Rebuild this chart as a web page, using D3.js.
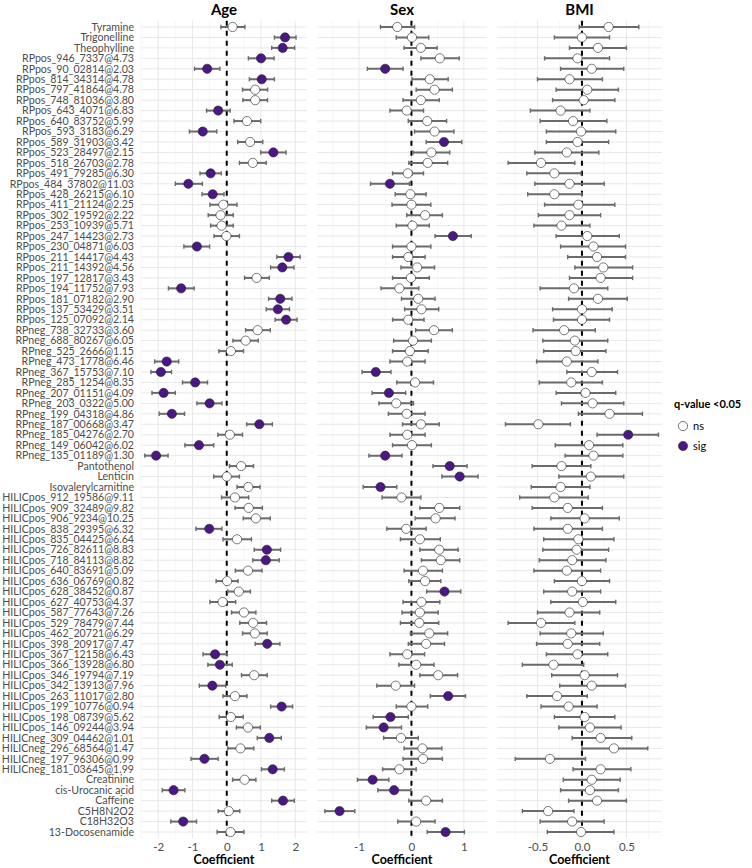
<!DOCTYPE html>
<html>
<head>
<meta charset="utf-8">
<script src="https://cdn.jsdelivr.net/npm/d3@7"></script>
<style>
  body { margin: 0; background: #fff; }
  svg text { font-family: Lato, "Open Sans", sans-serif; }
</style>
</head>
<body>
<div id="chart"></div>
<script>
const metabolites = [
  'Tyramine', 'Trigonelline', 'Theophylline', 'RPpos_946_7337@4.73', 'RPpos_90_02814@2.03',
  'RPpos_814_34314@4.78', 'RPpos_797_41864@4.78', 'RPpos_748_81036@3.80', 'RPpos_643_4071@6.83', 'RPpos_640_83752@5.99',
  'RPpos_593_3183@6.29', 'RPpos_589_31903@3.42', 'RPpos_523_28497@2.15', 'RPpos_518_26703@2.78', 'RPpos_491_79285@6.30',
  'RPpos_484_37802@11.03', 'RPpos_428_26215@6.10', 'RPpos_411_21124@2.25', 'RPpos_302_19592@2.22', 'RPpos_253_10939@5.71',
  'RPpos_247_14423@2.73', 'RPpos_230_04871@6.03', 'RPpos_211_14417@4.43', 'RPpos_211_14392@4.56', 'RPpos_197_12817@3.43',
  'RPpos_194_11752@7.93', 'RPpos_181_07182@2.90', 'RPpos_137_53429@3.51', 'RPpos_125_07092@2.14', 'RPneg_738_32733@3.60',
  'RPneg_688_80267@6.05', 'RPneg_525_2666@1.15', 'RPneg_473_1778@6.46', 'RPneg_367_15753@7.10', 'RPneg_285_1254@8.35',
  'RPneg_207_01151@4.09', 'RPneg_203_0322@5.00', 'RPneg_199_04318@4.86', 'RPneg_187_00668@3.47', 'RPneg_185_04276@2.70',
  'RPneg_149_06042@6.02', 'RPneg_135_01189@1.30', 'Pantothenol', 'Lenticin', 'Isovalerylcarnitine',
  'HILICpos_912_19586@9.11', 'HILICpos_909_32489@9.82', 'HILICpos_906_9234@10.25', 'HILICpos_838_29395@6.32', 'HILICpos_835_04425@6.64',
  'HILICpos_726_82611@8.83', 'HILICpos_718_84113@8.82', 'HILICpos_640_83691@5.09', 'HILICpos_636_06769@0.82', 'HILICpos_628_38452@0.87',
  'HILICpos_627_40753@4.37', 'HILICpos_587_77643@7.26', 'HILICpos_529_78479@7.44', 'HILICpos_462_20721@6.29', 'HILICpos_398_20917@7.47',
  'HILICpos_367_12158@6.43', 'HILICpos_366_13928@6.80', 'HILICpos_346_19794@7.19', 'HILICpos_342_13913@7.96', 'HILICpos_263_11017@2.80',
  'HILICpos_199_10776@0.94', 'HILICpos_198_08739@5.62', 'HILICpos_146_09244@3.94', 'HILICneg_309_04462@1.01', 'HILICneg_296_68564@1.47',
  'HILICneg_197_96306@0.99', 'HILICneg_181_03645@1.99', 'Creatinine', 'cis-Urocanic acid', 'Caffeine',
  'C5H8N2O2', 'C18H32O3', '13-Docosenamide'
];

// Age coefficients
const ageEst = [0.17,1.70,1.63,1.00,-0.57,1.02,0.83,0.83,-0.25,0.59, -0.70,0.68,1.36,0.76,-0.47,-1.12,-0.41,-0.10,-0.18,-0.15,
  -0.01,-0.87,1.80,1.62,0.87,-1.33,1.56,1.49,1.73,0.90, 0.55,0.12,-1.75,-1.92,-0.92,-1.84,-0.50,-1.60,0.95,0.09,
  -0.81,-2.06,0.42,0.00,0.63,0.24,0.64,0.85,-0.51,0.30, 1.17,1.14,0.62,0.01,0.35,-0.12,0.50,0.77,0.82,1.18,
  -0.34,-0.20,0.80,-0.42,0.24,1.60,0.12,0.62,1.24,0.40, -0.65,1.34,0.52,-1.55,1.64,0.06,-1.27,0.11];
const ageLo = [-0.17,1.39,1.31,0.63,-0.94,0.66,0.46,0.47,-0.59,0.21, -1.09,0.32,0.99,0.37,-0.78,-1.50,-0.72,-0.49,-0.54,-0.47,
  -0.37,-1.25,1.46,1.28,0.52,-1.70,1.22,1.15,1.41,0.55, 0.18,-0.23,-2.10,-2.21,-1.29,-2.18,-0.87,-1.97,0.58,-0.26,
  -1.22,-2.39,0.08,-0.38,0.30,-0.15,0.24,0.48,-0.90,-0.11, 0.80,0.76,0.25,-0.31,0.03,-0.49,0.14,0.38,0.46,0.83,
  -0.69,-0.55,0.43,-0.80,-0.11,1.28,-0.22,0.28,0.89,0.03, -1.04,1.01,0.17,-1.88,1.31,-0.25,-1.63,-0.28];
const ageHi = [0.53,2.02,1.98,1.38,-0.20,1.39,1.19,1.19,0.10,0.99, -0.29,1.05,1.73,1.15,-0.16,-0.71,-0.08,0.30,0.19,0.19,
  0.37,-0.50,2.14,1.96,1.24,-0.95,1.90,1.83,2.05,1.27, 0.92,0.49,-1.40,-1.61,-0.56,-1.50,-0.14,-1.23,1.33,0.46,
  -0.38,-1.71,0.78,0.37,0.97,0.64,1.04,1.27,-0.14,0.72, 1.57,1.53,1.03,0.33,0.69,0.26,0.85,1.16,1.18,1.55,
  0.01,0.16,1.18,-0.03,0.59,1.92,0.48,0.98,1.59,0.79, -0.25,1.68,0.85,-1.22,1.97,0.38,-0.88,0.50];
const ageSig = [0,1,1,1,1,1,0,0,1,0, 1,0,1,0,1,1,1,0,0,0, 0,1,1,1,0,1,1,1,1,0, 0,0,1,1,1,1,1,1,1,0,
  1,1,0,0,0,0,0,0,1,0, 1,1,0,0,0,0,0,0,0,1, 1,1,0,1,0,1,0,0,1,0, 1,1,0,1,1,0,1,0];

// Sex coefficients
const sexEst = [-0.27,0.01,0.18,0.54,-0.50,0.35,0.44,0.18,-0.09,0.30, 0.44,0.62,0.38,0.31,-0.07,-0.41,-0.02,0.00,0.26,0.02,
  0.79,0.00,-0.06,0.11,-0.01,-0.23,0.13,0.19,-0.06,0.43, 0.03,-0.03,-0.08,-0.68,0.07,-0.43,-0.29,-0.09,0.18,-0.08,
  0.01,-0.50,0.73,0.92,-0.59,-0.19,0.53,0.46,-0.10,0.16, 0.53,0.56,0.22,0.26,0.63,0.19,0.16,0.15,0.34,0.28,
  -0.08,0.09,0.51,-0.30,0.70,0.00,-0.40,-0.53,-0.20,0.21, 0.22,-0.23,-0.74,-0.33,0.28,-1.37,0.09,0.65];
const sexLo = [-0.59,-0.29,-0.14,0.18,-0.84,0.01,0.09,-0.16,-0.41,-0.06, 0.06,0.28,0.03,-0.05,-0.36,-0.78,-0.31,-0.37,-0.09,-0.29,
  0.45,-0.36,-0.36,-0.20,-0.36,-0.58,-0.19,-0.13,-0.36,0.08, -0.34,-0.36,-0.41,-0.94,-0.28,-0.75,-0.62,-0.44,-0.17,-0.41,
  -0.36,-0.81,0.41,0.58,-0.92,-0.56,0.16,0.07,-0.47,-0.21, 0.16,0.19,-0.14,-0.05,0.29,-0.16,-0.18,-0.21,-0.02,-0.06,
  -0.41,-0.24,0.16,-0.66,0.36,-0.29,-0.73,-0.86,-0.53,-0.14, -0.16,-0.55,-1.03,-0.64,-0.05,-1.65,-0.26,0.30];
const sexHi = [0.06,0.33,0.49,0.91,-0.16,0.70,0.78,0.53,0.23,0.67, 0.81,0.96,0.73,0.69,0.23,-0.04,0.28,0.37,0.59,0.34,
  1.14,0.37,0.26,0.44,0.34,0.14,0.45,0.52,0.24,0.78, 0.38,0.32,0.26,-0.39,0.42,-0.11,0.04,0.26,0.53,0.26,
  0.38,-0.18,1.06,1.27,-0.28,0.18,0.92,0.83,0.28,0.55, 0.89,0.92,0.59,0.56,0.94,0.54,0.51,0.52,0.69,0.63,
  0.25,0.43,0.88,0.06,1.03,0.31,-0.06,-0.19,0.13,0.58, 0.59,0.09,-0.43,-0.01,0.59,-1.08,0.45,1.01];
const sexSig = [0,0,0,0,1,0,0,0,0,0, 0,1,0,0,0,1,0,0,0,0, 1,0,0,0,0,0,0,0,0,0, 0,0,0,1,0,1,0,0,0,0,
  0,1,1,1,1,0,0,0,0,0, 0,0,0,0,1,0,0,0,0,0, 0,0,0,0,1,0,1,1,0,0, 0,0,1,1,0,1,0,1];

// BMI coefficients
const bmiEst = [0.30,0.00,0.18,-0.05,0.11,-0.14,0.06,0.02,-0.24,-0.10, -0.01,-0.05,-0.17,-0.46,-0.31,-0.14,-0.31,-0.04,-0.14,-0.23,
  0.06,0.13,0.17,0.24,0.21,-0.09,0.18,0.00,0.00,-0.20, -0.08,-0.07,-0.17,0.11,-0.12,0.04,0.12,0.31,-0.49,0.52,
  0.08,0.13,-0.23,0.10,-0.24,-0.31,-0.16,0.03,-0.16,-0.04, -0.06,-0.11,-0.17,0.00,-0.11,0.01,-0.14,-0.46,-0.12,-0.16,
  -0.05,-0.32,0.03,0.11,-0.28,-0.15,0.03,0.09,0.21,0.36, -0.36,0.21,0.11,0.09,0.17,-0.38,-0.11,-0.01];
const bmiLo = [-0.03,-0.31,-0.14,-0.42,-0.24,-0.50,-0.29,-0.33,-0.58,-0.47, -0.40,-0.40,-0.53,-0.83,-0.62,-0.53,-0.61,-0.42,-0.49,-0.54,
  -0.29,-0.24,-0.16,-0.08,-0.14,-0.47,-0.15,-0.33,-0.32,-0.55, -0.44,-0.43,-0.51,-0.17,-0.48,-0.29,-0.23,-0.04,-0.86,0.17,
  -0.30,-0.19,-0.56,-0.26,-0.57,-0.70,-0.56,-0.35,-0.54,-0.43, -0.44,-0.48,-0.54,-0.31,-0.43,-0.35,-0.50,-0.83,-0.47,-0.51,
  -0.40,-0.67,-0.34,-0.25,-0.62,-0.46,-0.31,-0.26,-0.11,0.00, -0.75,-0.10,-0.21,-0.24,-0.15,-0.67,-0.47,-0.39];
const bmiHi = [0.64,0.31,0.50,0.31,0.47,0.23,0.41,0.37,0.09,0.28, 0.38,0.30,0.19,-0.08,-0.01,0.25,0.00,0.37,0.21,0.09,
  0.42,0.49,0.49,0.57,0.57,0.29,0.51,0.34,0.31,0.15, 0.29,0.27,0.18,0.40,0.23,0.38,0.47,0.68,-0.13,0.86,
  0.46,0.46,0.10,0.47,0.09,0.07,0.23,0.42,0.23,0.36, 0.30,0.27,0.21,0.31,0.21,0.38,0.20,-0.08,0.24,0.20,
  0.29,0.02,0.40,0.49,0.06,0.17,0.37,0.44,0.56,0.74, 0.04,0.55,0.43,0.41,0.50,-0.09,0.25,0.36];
const bmiSig = [0,0,0,0,0,0,0,0,0,0, 0,0,0,0,0,0,0,0,0,0, 0,0,0,0,0,0,0,0,0,0, 0,0,0,0,0,0,0,0,0,1,
  0,0,0,0,0,0,0,0,0,0, 0,0,0,0,0,0,0,0,0,0, 0,0,0,0,0,0,0,0,0,0, 0,0,0,0,0,0,0,0];

const panelTitles = ['Age', 'Sex', 'BMI'];
const ageTicks = [-2, -1, 0, 1, 2];
const sexTicks = [-1, 0, 1];
const bmiTicks = [-0.5, 0, 0.5];
const legendLabels = ['ns', 'sig'];

const width = 752;
const height = 868;
const purple = '#4b1786';

const panels = [
  { title: panelTitles[0], est: ageEst, lo: ageLo, hi: ageHi, sig: ageSig, ticks: ageTicks, domain: [-2.5, 2.34], range: [141, 307], fmt: d => String(d).replace('\u2212', '-') },
  { title: panelTitles[1], est: sexEst, lo: sexLo, hi: sexHi, sig: sexSig, ticks: sexTicks, domain: [-1.8, 1.44], range: [317, 487], fmt: d => String(d) },
  { title: panelTitles[2], est: bmiEst, lo: bmiLo, hi: bmiHi, sig: bmiSig, ticks: bmiTicks, domain: [-0.955, 0.9], range: [497, 662], fmt: d => d.toFixed(1) }
];

const svg = d3.select('#chart')
  .append('svg')
  .attr('width', width)
  .attr('height', height);

const y = d3.scalePoint()
  .domain(metabolites)
  .range([20.7, 838.3])
  .padding(0.6);

// y axis labels (only on the first panel)
svg.append('g')
  .selectAll('text')
  .data(metabolites)
  .join('text')
  .attr('x', 134)
  .attr('y', d => y(d))
  .attr('dy', '0.35em')
  .attr('text-anchor', 'end')
  .attr('font-size', '10.6px')
  .attr('fill', '#4d4d4d')
  .text(d => d);

panels.forEach(p => {
  const x = d3.scaleLinear().domain(p.domain).range(p.range);
  const g = svg.append('g');

  // minor grid at midpoints between major ticks
  const step = p.ticks[1] - p.ticks[0];
  const minor = d3.range(p.ticks[0] - step / 2, p.ticks[p.ticks.length - 1] + step, step)
    .filter(v => v >= p.domain[0] && v <= p.domain[1]);

  g.selectAll('.minor')
    .data(minor)
    .join('line')
    .attr('x1', d => x(d)).attr('x2', d => x(d))
    .attr('y1', y.range()[0]).attr('y2', y.range()[1])
    .attr('stroke', '#f0f0f0')
    .attr('stroke-width', 0.6);

  g.selectAll('.major')
    .data(p.ticks)
    .join('line')
    .attr('x1', d => x(d)).attr('x2', d => x(d))
    .attr('y1', y.range()[0]).attr('y2', y.range()[1])
    .attr('stroke', '#e8e8e8')
    .attr('stroke-width', 1);

  g.selectAll('.hgrid')
    .data(metabolites)
    .join('line')
    .attr('x1', p.range[0]).attr('x2', p.range[1])
    .attr('y1', d => y(d)).attr('y2', d => y(d))
    .attr('stroke', '#e8e8e8')
    .attr('stroke-width', 1);

  // reference line at zero
  g.append('line')
    .attr('x1', x(0)).attr('x2', x(0))
    .attr('y1', y.range()[0]).attr('y2', y.range()[1])
    .attr('stroke', '#000')
    .attr('stroke-width', 2)
    .attr('stroke-dasharray', '5,5');

  const rows = metabolites.map((name, i) => ({
    name, est: p.est[i], lo: p.lo[i], hi: p.hi[i], sig: p.sig[i]
  }));

  // error bars with small caps
  const bars = g.selectAll('.bar')
    .data(rows)
    .join('g');

  bars.append('line')
    .attr('x1', d => x(d.lo)).attr('x2', d => x(d.hi))
    .attr('y1', d => y(d.name)).attr('y2', d => y(d.name))
    .attr('stroke', '#6b6b6b')
    .attr('stroke-width', 2);

  bars.selectAll('.cap')
    .data(d => [[d.lo, d.name], [d.hi, d.name]])
    .join('line')
    .attr('x1', d => x(d[0])).attr('x2', d => x(d[0]))
    .attr('y1', d => y(d[1]) - 2.2).attr('y2', d => y(d[1]) + 2.2)
    .attr('stroke', '#6b6b6b')
    .attr('stroke-width', 1.4);

  g.selectAll('circle')
    .data(rows)
    .join('circle')
    .attr('cx', d => x(d.est))
    .attr('cy', d => y(d.name))
    .attr('r', 4.6)
    .attr('fill', d => d.sig ? purple : '#fff')
    .attr('stroke', '#222')
    .attr('stroke-width', 0.6);

  // panel title
  svg.append('text')
    .attr('x', (p.range[0] + p.range[1]) / 2)
    .attr('y', 15)
    .attr('text-anchor', 'middle')
    .attr('font-size', '15px')
    .attr('font-weight', 'bold')
    .attr('fill', '#000')
    .text(p.title);

  // x axis
  const axis = d3.axisBottom(x)
    .tickValues(p.ticks)
    .tickSize(0)
    .tickPadding(0)
    .tickFormat(d => p.fmt(d).replace('\u2212', '-'));

  const ax = svg.append('g')
    .attr('transform', `translate(0, 843)`)
    .call(axis);
  ax.select('.domain').remove();
  ax.selectAll('text')
    .attr('font-size', '11.5px')
    .attr('fill', '#4d4d4d')
    .attr('font-family', 'Lato, sans-serif');

  svg.append('text')
    .attr('x', (p.range[0] + p.range[1]) / 2)
    .attr('y', 864)
    .attr('text-anchor', 'middle')
    .attr('font-size', '12.5px')
    .attr('font-weight', 'bold')
    .attr('fill', '#000')
    .text('Coefficient');
});

// legend
const legend = svg.append('g').attr('transform', 'translate(674, 404)');
legend.append('text')
  .attr('x', 0)
  .attr('y', 4)
  .attr('font-size', '11px')
  .attr('font-weight', 'bold')
  .attr('fill', '#000')
  .text('q-value <0.05');

legendLabels.forEach((lab, i) => {
  const row = legend.append('g').attr('transform', `translate(0, ${22 + i * 20})`);
  row.append('circle')
    .attr('cx', 9)
    .attr('cy', 0)
    .attr('r', 4.6)
    .attr('fill', lab === 'sig' ? purple : '#fff')
    .attr('stroke', '#222')
    .attr('stroke-width', 0.6);
  row.append('text')
    .attr('x', 19)
    .attr('y', 0)
    .attr('dy', '0.35em')
    .attr('font-size', '11px')
    .attr('fill', '#000')
    .text(lab);
});
</script>
</body>
</html>
